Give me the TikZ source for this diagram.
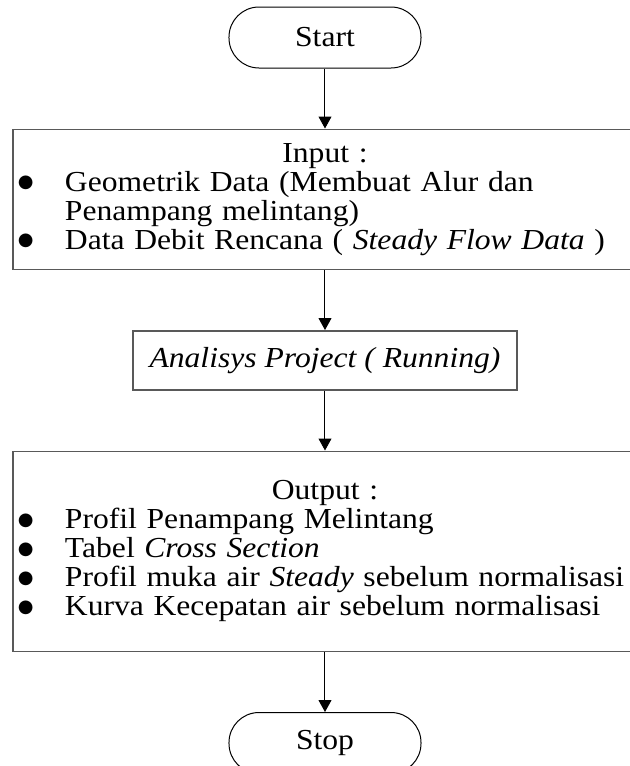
\documentclass[tikz,border=0pt]{standalone}
\usepackage{fontspec}
\setmainfont{Liberation Serif}[FakeStretch=1.09]
\newfontfamily\symfont{DejaVu Sans}
\usetikzlibrary{arrows.meta, positioning}

\newcommand{\bul}[1]{\makebox[23.5pt][l]{\raisebox{1.8pt}{\symfont\fontsize{9pt}{9pt}\selectfont ●}}\mbox{#1}}
\newcommand{\nobul}[1]{\hspace*{23.5pt}\mbox{#1}}

\begin{document}
\begin{tikzpicture}[
    node distance=30pt,
    font=\fontsize{14.5pt}{14.5pt}\selectfont,
    terminal/.style={
        rectangle, draw, rounded corners=15pt,
        minimum width=96pt, minimum height=30.5pt,
        align=center, line width=0.5pt
    },
    databox/.style={
        rectangle, draw=black!65, line width=0.75pt,
        text width=307pt, inner xsep=2.5pt,
        align=left
    },
    process/.style={
        rectangle, draw=black!65, line width=0.75pt,
        minimum width=192pt, minimum height=29.5pt,
        align=center
    },
    arrow/.style={-{Triangle[width=6.5pt, length=6pt]}, line width=0.5pt},
]

\useasboundingbox (-162.5pt,18.75pt) rectangle (152.5pt,-364.25pt);

\node[terminal] (start) at (0,0) {Start};

\node[databox, minimum height=70pt, below=of start] (input) {%
    \makebox[\hsize]{Input :}\\
    \bul{Geometrik Data (Membuat Alur dan}\\
    \nobul{Penampang melintang)}\\
    \bul{Data Debit Rencana ( \textit{Steady Flow Data} )}};

\node[process, below=of input] (analisys) {\textit{Analisys Project ( Running)}};

\node[databox, minimum height=100pt, below=of analisys] (output) {%
    \makebox[\hsize]{Output :}\\
    \bul{Profil Penampang Melintang}\\
    \bul{Tabel \textit{Cross Section}}\\
    \bul{Profil muka air \textit{Steady} sebelum normalisasi}\\
    \bul{Kurva Kecepatan air sebelum normalisasi}};

\node[terminal, below=of output] (stop) {Stop};

\draw[arrow] (start.south) -- (input.north);
\draw[arrow] (input.south) -- (analisys.north);
\draw[arrow] (analisys.south) -- (output.north);
\draw[arrow] (output.south) -- (stop.north);

\end{tikzpicture}
\end{document}
